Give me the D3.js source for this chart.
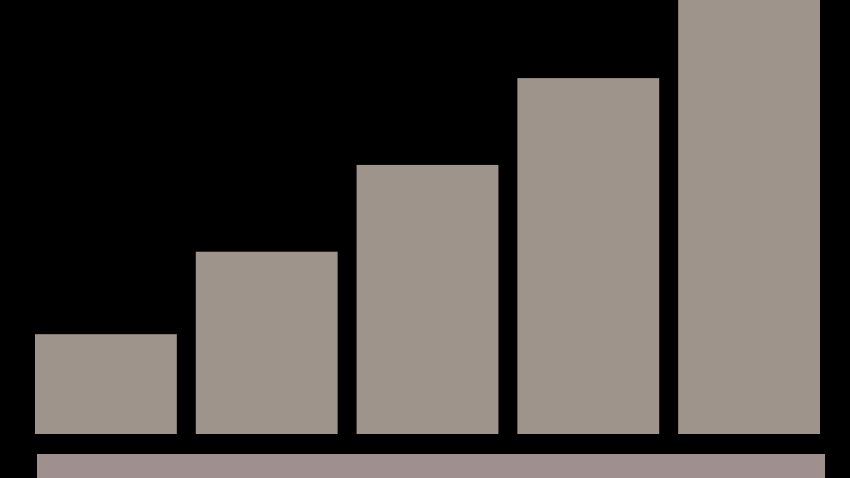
<!DOCTYPE html>
<html>
<head>
<meta charset="utf-8">
<script src="https://cdn.jsdelivr.net/npm/d3@7"></script>
<style>
  html, body { margin: 0; padding: 0; background: #000; overflow: hidden; }
  svg { display: block; }
</style>
</head>
<body>
<svg id="chart" width="850" height="478"></svg>
<script>
// data
const categories = ["A", "B", "C", "D", "E"];
const values = [23, 42, 62, 82, 100];
const yMax = 100;

const width = 850, height = 478;
const margin = {top: 0, right: 30, bottom: 44, left: 35};
// base strip spans a bit wider than the bars
const strip = {left: 37, right: 25, gap: 20};

const svg = d3.select("#chart");

// background
svg.append("rect")
  .attr("width", width).attr("height", height)
  .attr("fill", "#000");

const x = d3.scaleBand()
  .domain(categories)
  .range([margin.left, width - margin.right])
  .paddingInner(0.118)
  .paddingOuter(0);

const y = d3.scaleLinear()
  .domain([0, yMax])
  .range([height - margin.bottom, margin.top]);

// bars
svg.append("g")
  .selectAll("rect")
  .data(values)
  .join("rect")
  .attr("x", (d, i) => x(categories[i]))
  .attr("y", d => y(d))
  .attr("width", x.bandwidth())
  .attr("height", d => y(0) - y(d))
  .attr("fill", "#9e948c");

// base strip under the bars
svg.append("rect")
  .attr("x", strip.left)
  .attr("y", y(0) + strip.gap)
  .attr("width", width - strip.right - strip.left)
  .attr("height", height - y(0) - strip.gap)
  .attr("fill", "#a08f8f");
</script>
</body>
</html>
